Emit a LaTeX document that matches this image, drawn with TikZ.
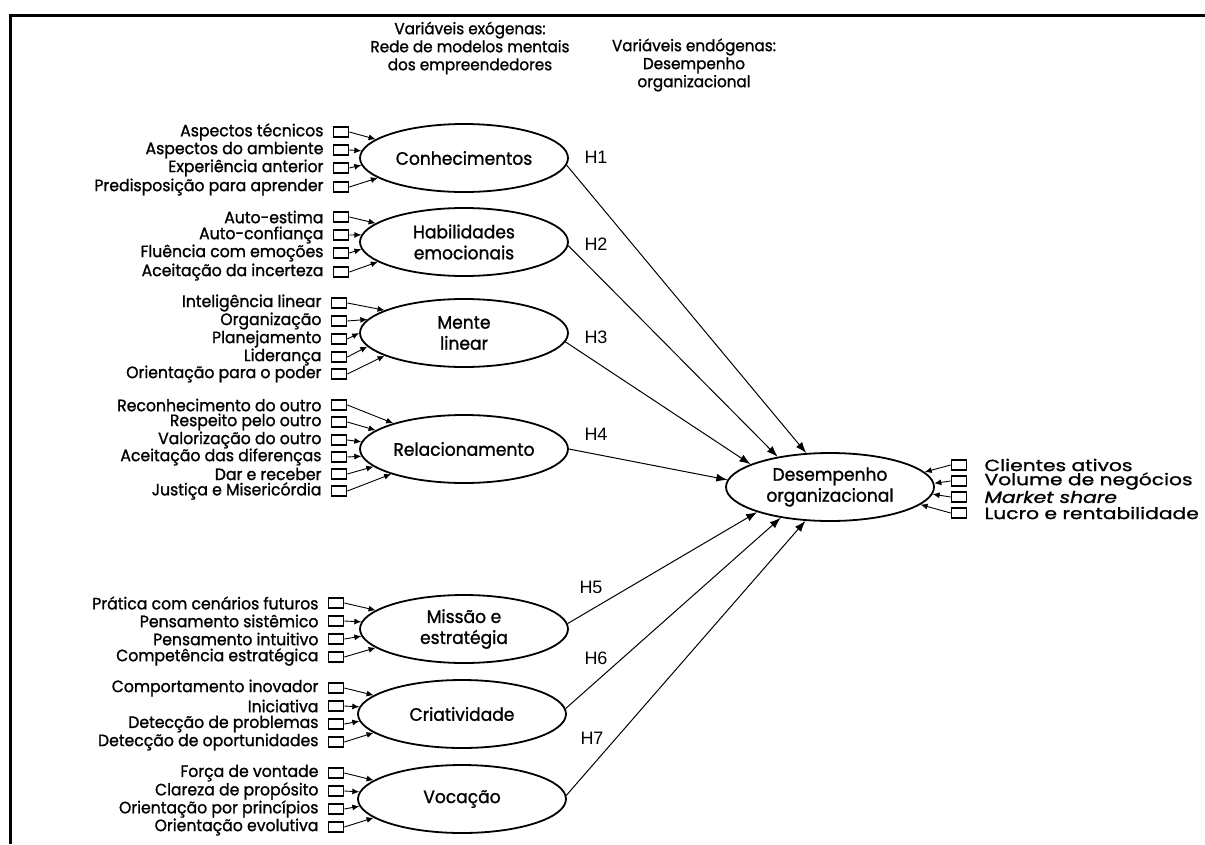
\documentclass[tikz,border=0pt]{standalone}
\usepackage{fontspec}
\setmainfont{Poppins}[FakeStretch=0.95,FakeBold=1.2]
\newfontfamily\rfont{Poppins}[FakeStretch=1.25,FakeBold=1.2]
\newfontfamily\arialfont{Liberation Sans}
\usetikzlibrary{shapes.geometric,arrows.meta}
\begin{document}
\begin{tikzpicture}[x=1pt,y=-1pt,
  latent/.style={draw,ellipse,line width=1.8pt,minimum width=208pt,minimum height=68pt,inner sep=0pt,align=center,font=\fontsize{18}{21}\selectfont},
  ind/.style={draw,rectangle,line width=1.7pt,minimum width=15pt,minimum height=10pt,inner sep=0pt},
  indlabel/.style={inner sep=0pt,font=\fontsize{16.5}{18}\selectfont},
  rlabel/.style={inner sep=0pt,anchor=west,font=\rfont\fontsize{16.2}{16}\selectfont},
  header/.style={align=center,inner sep=0pt,font=\fontsize{16}{18}\selectfont},
  hlabel/.style={inner sep=0pt,font=\arialfont\fontsize{18}{18}\selectfont},
  indarrow/.style={-{Latex[length=7pt,width=6pt]},line width=0.9pt},
  hyparrow/.style={-{Latex[length=11pt,width=8pt]},line width=1pt}]
\useasboundingbox (0,0) rectangle (1205,844);
\draw[line width=3pt] (10,844) -- (10,15) -- (1205,15);

\node[header] (hexo) at (470,48) {Variáveis exógenas:\\Rede de modelos mentais\\dos empreendedores};
\node[header] (hendo) at (694,65) {Variáveis endógenas:\\Desempenho\\organizacional};

\node[latent] (conh) at (464,158) {Conhecimentos};
\node[latent] (hab) at (464,242) {Habilidades\\emocionais};
\node[latent] (mente) at (464,333) {Mente\\linear};
\node[latent] (rel) at (464,449) {Relacionamento};
\node[latent] (miss) at (464,629) {Missão e\\estratégia};
\node[latent] (cri) at (462,714) {Criatividade};
\node[latent] (voc) at (462,799) {Vocação};
\node[latent] (des) at (830,487) {Desempenho\\organizacional};

% left indicators
\foreach \txt/\yy [count=\i] in {Aspectos técnicos/132,Aspectos do ambiente/150,Experiência anterior/168,Predisposição para aprender/187}{
  \node[ind] (ca\i) at (341,\yy) {};
  \node[indlabel,anchor=east] (cat\i) at ([xshift=-9pt]ca\i.west) {\txt};
  \pgfmathsetmacro\myang{180+0.45*(\yy-158)}
  \draw[indarrow] (ca\i.east) -- (conh.\myang);
}
\foreach \txt/\yy [count=\i] in {Auto-estima/217,Auto-confiança/235,Fluência com emoções/253,Aceitação da incerteza/272}{
  \node[ind] (ha\i) at (341,\yy) {};
  \node[indlabel,anchor=east] (hat\i) at ([xshift=-9pt]ha\i.west) {\txt};
  \pgfmathsetmacro\myang{180+0.45*(\yy-242)}
  \draw[indarrow] (ha\i.east) -- (hab.\myang);
}
\foreach \txt/\yy [count=\i] in {Inteligência linear/303,Organização/321,Planejamento/339,Liderança/357,Orientação para o poder/374}{
  \node[ind] (me\i) at (339,\yy) {};
  \node[indlabel,anchor=east] (met\i) at ([xshift=-9pt]me\i.west) {\txt};
  \pgfmathsetmacro\myang{180+0.45*(\yy-338)}
  \draw[indarrow] (me\i.east) -- (mente.\myang);
}
\foreach \txt/\yy [count=\i] in {Reconhecimento do outro/405,Respeito pelo outro/422,Valorização do outro/440,Aceitação das diferenças/457,Dar e receber/474,Justiça e Misericórdia/491}{
  \node[ind] (re\i) at (339,\yy) {};
  \node[indlabel,anchor=east] (ret\i) at ([xshift=-9pt]re\i.west) {\txt};
  \pgfmathsetmacro\myang{180+0.45*(\yy-448)}
  \draw[indarrow] (re\i.east) -- (rel.\myang);
}
\foreach \txt/\yy [count=\i] in {Prática com cenários futuros/603,Pensamento sistêmico/621,Pensamento intuitivo/639,Competência estratégica/657}{
  \node[ind] (mi\i) at (336,\yy) {};
  \node[indlabel,anchor=east] (mit\i) at ([xshift=-9pt]mi\i.west) {\txt};
  \pgfmathsetmacro\myang{180+0.45*(\yy-629)}
  \draw[indarrow] (mi\i.east) -- (miss.\myang);
}
\foreach \txt/\yy [count=\i] in {Comportamento inovador/688,Iniciativa/706,Detecção de problemas/724,Detecção de oportunidades/742}{
  \node[ind] (cr\i) at (336,\yy) {};
  \node[indlabel,anchor=east] (crt\i) at ([xshift=-9pt]cr\i.west) {\txt};
  \pgfmathsetmacro\myang{180+0.45*(\yy-714)}
  \draw[indarrow] (cr\i.east) -- (cri.\myang);
}
\foreach \txt/\yy [count=\i] in {Força de vontade/773,Clareza de propósito/791,Orientação por princípios/809,Orientação evolutiva/827}{
  \node[ind] (vo\i) at (336,\yy) {};
  \node[indlabel,anchor=east] (vot\i) at ([xshift=-9pt]vo\i.west) {\txt};
  \pgfmathsetmacro\myang{180+0.45*(\yy-799)}
  \draw[indarrow] (vo\i.east) -- (voc.\myang);
}

% right indicators
\foreach \txt/\yy [count=\i] in {Clientes ativos/465,Volume de negócios/481,\textit{Market share}/497,Lucro e rentabilidade/513}{
  \node[ind] (de\i) at (959,\yy) {};
  \node[rlabel] (det\i) at ([xshift=17pt]de\i.east) {\txt};
  \pgfmathsetmacro\myang{-0.45*(\yy-487)}
  \draw[indarrow] (de\i.west) -- (des.\myang);
}

% hypotheses
\draw[hyparrow] (conh.-4) -- (des.125);
\draw[hyparrow] (hab.-2) -- (des.150);
\draw[hyparrow] (mente.-5) -- (des.164);
\draw[hyparrow] (rel.0) -- (des.176);
\draw[hyparrow] (miss.3) -- (des.199);
\draw[hyparrow] (cri.3) -- (des.212);
\draw[hyparrow] (voc.2) -- (des.234);

\node[hlabel] (h1) at (596,157) {H1};
\node[hlabel] (h2) at (596,244) {H2};
\node[hlabel] (h3) at (596,337) {H3};
\node[hlabel] (h4) at (596,434) {H4};
\node[hlabel] (h5) at (591,587) {H5};
\node[hlabel] (h6) at (596,658) {H6};
\node[hlabel] (h7) at (592,738) {H7};
\end{tikzpicture}
\end{document}
